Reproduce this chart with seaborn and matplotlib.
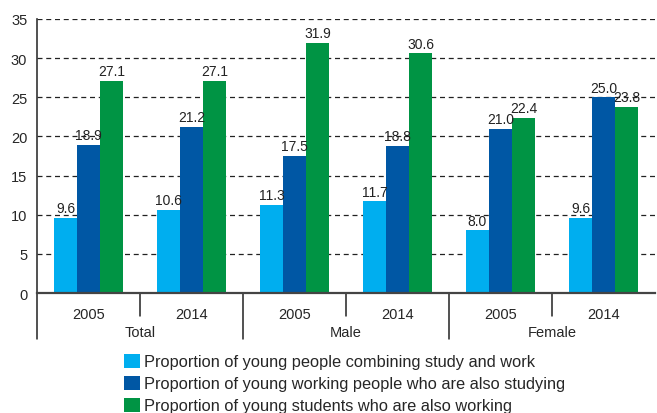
import numpy as np
import pandas as pd
import matplotlib
matplotlib.use("Agg")
import matplotlib.pyplot as plt
import matplotlib.transforms as mtransforms
from matplotlib.patches import Patch
import seaborn as sns

groups = ["Total", "Total", "Male", "Male", "Female", "Female"]
years = ["2005", "2014", "2005", "2014", "2005", "2014"]
series = ["Proportion of young people combining study and work",
          "Proportion of young working people who are also studying",
          "Proportion of young students who are also working"]
combining = [9.6, 10.6, 11.3, 11.7, 8.0, 9.6]
working_studying = [18.9, 21.2, 17.5, 18.8, 21.0, 25.0]
students_working = [27.1, 27.1, 31.9, 30.6, 22.4, 23.8]
colors = ["#00AEEF", "#0057A4", "#009444"]

cats = [g + " " + y for g, y in zip(groups, years)]
rows = []
for s, vals in zip(series, [combining, working_studying, students_working]):
    for c, v in zip(cats, vals):
        rows.append({"cat": c, "series": s, "value": v})
df = pd.DataFrame(rows)

sns.set_style("white")
plt.rcParams['font.family'] = ['Liberation Sans', 'DejaVu Sans']

fig = plt.figure(figsize=(6.57, 4.14), dpi=100)
ax = fig.add_axes([37 / 657, 1 - 294 / 414, 618 / 657, 274 / 414])

sns.barplot(data=df, x="cat", y="value", hue="series", order=cats,
            hue_order=series, palette=colors, width=0.67, saturation=1,
            linewidth=0, legend=False, ax=ax)

for cont in ax.containers:
    ax.bar_label(cont, fmt="%.1f", padding=2, fontsize=10, color="#222222")

ax.set_ylim(0, 35)
ax.set_xlim(-0.5, 5.5)
ax.set_yticks(range(0, 36, 5))
ax.yaxis.grid(True, linestyle=(0, (4, 3)), color="#222222", linewidth=0.9)
ax.set_axisbelow(True)
ax.set_xticks(range(6))
ax.set_xticklabels(years, fontsize=10.5)
ax.tick_params(axis="x", length=0, pad=10)
ax.tick_params(axis="y", length=5, width=1, color="#333333", labelsize=10.5, pad=2, direction="out")
ax.set_xlabel("")
ax.set_ylabel("")
for side in ["top", "right"]:
    ax.spines[side].set_visible(False)
ax.spines["left"].set_color("#333333")
ax.spines["bottom"].set_color("#444444")
ax.spines["bottom"].set_linewidth(1.6)
ax.spines["left"].set_linewidth(1.2)

trans = mtransforms.blended_transform_factory(ax.transData, ax.transAxes)
for i, x in enumerate(np.arange(-0.5, 5.0, 1.0)):
    low = -0.168 if i % 2 == 0 else -0.084
    ax.plot([x, x], [0, low], transform=trans, color="#222222", lw=1.1, clip_on=False)

for k, g in enumerate(["Total", "Male", "Female"]):
    ax.text(2 * k + 0.5, -0.143, g, transform=trans, ha="center", va="center", fontsize=10.5)

handles = [Patch(facecolor=c, edgecolor="none") for c in colors]
fig.legend(handles, series, loc="upper left", bbox_to_anchor=(124 / 657, 1 - 355 / 414),
           frameon=False, fontsize=11.8, handlelength=1.0, handleheight=0.9,
           handletextpad=0.2, labelspacing=0.4, borderaxespad=0, borderpad=0)

fig.savefig("out.png", dpi=100)
